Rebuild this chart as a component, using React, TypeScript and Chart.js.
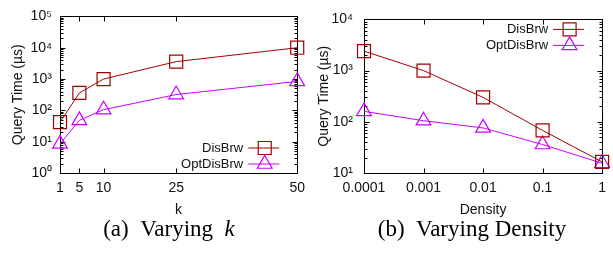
import React, { useEffect, useRef } from 'react';
import { Chart, registerables } from 'chart.js';
import { drawPoint } from 'chart.js/helpers';

Chart.register(...registerables);

// ---- data ----
const K_VALUES = [1, 5, 10, 25, 50];
const K_DISBRW = [42, 360, 1000, 3600, 10000];
const K_OPTDISBRW = [8.5, 48, 105, 320, 840];

const DENSITY_LABELS = ['0.0001', '0.001', '0.01', '0.1', '1'];
const D_DISBRW = [2400, 1000, 300, 68, 16.5];
const D_OPTDISBRW = [160, 105, 76, 36, 15.5];

const K_Y_TICKS = [1, 10, 100, 1000, 10000, 100000];
const D_Y_TICKS = [10, 100, 1000, 10000];

const SERIES_NAMES = ['DisBrw', 'OptDisBrw'];
const COLORS = ['#a00000', '#cc00ff'];
const POINT_STYLES = ['rect', 'triangle'];
const POINT_RADII = [9.2, 8.5];

const FONT_FAMILY = '"Liberation Sans", Arial, Helvetica, sans-serif';
const TEXT_COLOR = '#111';

const SUP = '⁰¹²³⁴⁵⁶⁷⁸⁹';
const pow10Label = (v: number) => {
  const e = Math.round(Math.log10(v));
  return '10' + String(e).split('').map((c) => SUP[+c]).join('');
};

// frame with inward ticks (gnuplot style)
const framePlugin = {
  id: 'gpFrame',
  beforeDatasetsDraw(chart: any) {
    const { ctx, chartArea: a, scales } = chart;
    const xs = scales.x;
    const ys = scales.y;
    const L = Math.round(a.left) + 0.5;
    const R = Math.round(a.right) + 0.5;
    const T = Math.round(a.top) + 0.5;
    const B = Math.round(a.bottom) + 0.5;
    ctx.save();
    ctx.strokeStyle = '#000';
    ctx.lineWidth = 1;
    ctx.beginPath();
    xs.ticks.forEach((_t: any, i: number) => {
      const px = Math.round(xs.getPixelForTick(i)) + 0.5;
      ctx.moveTo(px, B);
      ctx.lineTo(px, B - 5);
      ctx.moveTo(px, T);
      ctx.lineTo(px, T + 5);
    });
    const lo = Math.round(Math.log10(ys.min));
    const hi = Math.round(Math.log10(ys.max));
    for (let e = lo; e <= hi; e++) {
      for (let m = 1; m <= 9; m++) {
        const v = m * Math.pow(10, e);
        if (v > ys.max * 1.0001) break;
        const py = Math.round(ys.getPixelForValue(v)) + 0.5;
        const len = m === 1 ? 5 : 3;
        ctx.moveTo(L, py);
        ctx.lineTo(L + len, py);
        ctx.moveTo(R, py);
        ctx.lineTo(R - len, py);
      }
    }
    ctx.stroke();
    ctx.strokeRect(L, T, R - L, B - T);
    ctx.restore();
  },
};

// legend drawn inside the plot area
const insideLegendPlugin = {
  id: 'insideLegend',
  afterDraw(chart: any, _args: any, opts: any) {
    const { ctx, chartArea: a } = chart;
    chart.data.datasets.forEach((ds: any, i: number) => {
      const y = opts.anchor === 'bottom' ? a.bottom - opts.offsets[i] : a.top + opts.offsets[i];
      ctx.save();
      ctx.font = '13px ' + FONT_FAMILY;
      ctx.fillStyle = TEXT_COLOR;
      ctx.textAlign = 'right';
      ctx.textBaseline = 'middle';
      ctx.fillText(ds.label, a.right - 54, y);
      ctx.strokeStyle = ds.borderColor;
      ctx.lineWidth = 1;
      ctx.beginPath();
      ctx.moveTo(a.right - 49, y);
      ctx.lineTo(a.right - 18, y);
      ctx.stroke();
      ctx.fillStyle = 'rgba(0,0,0,0)';
      ctx.lineWidth = ds.pointBorderWidth;
      drawPoint(
        ctx,
        { pointStyle: ds.pointStyle, rotation: 0, radius: ds.pointRadius, borderWidth: ds.pointBorderWidth } as any,
        a.right - 32.5,
        y
      );
      ctx.restore();
    });
  },
};

const tickFont = { family: FONT_FAMILY, size: 14 };

function makeDatasets(series: any[][]) {
  return series.map((data, i) => ({
    label: SERIES_NAMES[i],
    data,
    borderColor: COLORS[i],
    backgroundColor: 'rgba(0,0,0,0)',
    borderWidth: 1,
    pointStyle: POINT_STYLES[i],
    pointRadius: POINT_RADII[i],
    pointBorderWidth: 1.2,
    pointBorderColor: COLORS[i],
    pointBackgroundColor: 'rgba(0,0,0,0)',
    tension: 0,
    clip: false as any,
  }));
}

function yAxis(min: number, max: number, ticks: number[], width: number, pad: number) {
  return {
    type: 'logarithmic',
    min,
    max,
    afterBuildTicks: (s: any) => {
      s.ticks = ticks.map((v) => ({ value: v }));
    },
    afterFit: (s: any) => {
      s.width = width;
    },
    ticks: {
      font: tickFont,
      color: TEXT_COLOR,
      padding: pad,
      autoSkip: false,
      callback: (v: any) => pow10Label(Number(v)),
    },
    grid: { display: false, drawTicks: false },
    border: { display: false },
    title: {
      display: true,
      text: 'Query Time (µs)',
      font: { family: FONT_FAMILY, size: 14 },
      color: TEXT_COLOR,
      padding: { top: 10, bottom: 0 },
    },
  };
}

function xCommon(title: string) {
  return {
    afterFit: (s: any) => {
      s.height = 49;
    },
    ticks: { font: tickFont, color: TEXT_COLOR, padding: 7, autoSkip: false, maxRotation: 0 },
    grid: { display: false, drawTicks: false },
    border: { display: false },
    title: {
      display: true,
      text: title,
      font: { family: FONT_FAMILY, size: 14 },
      color: TEXT_COLOR,
      padding: { top: 0, bottom: 3 },
    },
  };
}

function leftConfig(): any {
  const xc = xCommon('k');
  return {
    type: 'line',
    data: {
      datasets: makeDatasets([
        K_VALUES.map((k, i) => ({ x: k, y: K_DISBRW[i] })),
        K_VALUES.map((k, i) => ({ x: k, y: K_OPTDISBRW[i] })),
      ]),
    },
    options: {
      responsive: false,
      animation: false,
      devicePixelRatio: 1,
      layout: { padding: { left: 0, right: 11, top: 14, bottom: 0 } },
      plugins: {
        legend: { display: false },
        tooltip: { enabled: false },
        insideLegend: { anchor: 'bottom', offsets: [25, 9] },
      },
      scales: {
        x: {
          ...xc,
          type: 'linear',
          min: 1,
          max: 50,
          afterBuildTicks: (s: any) => {
            s.ticks = K_VALUES.map((v) => ({ value: v }));
          },
          ticks: { ...xc.ticks, callback: (v: any) => String(v) },
        },
        y: yAxis(1, 100000, K_Y_TICKS, 60, 8),
      },
    },
    plugins: [framePlugin, insideLegendPlugin],
  };
}

function rightConfig(): any {
  const xc = xCommon('Density');
  return {
    type: 'line',
    data: {
      labels: DENSITY_LABELS,
      datasets: makeDatasets([D_DISBRW, D_OPTDISBRW]),
    },
    options: {
      responsive: false,
      animation: false,
      devicePixelRatio: 1,
      layout: { padding: { left: 0, right: 7, top: 14, bottom: 0 } },
      plugins: {
        legend: { display: false },
        tooltip: { enabled: false },
        insideLegend: { anchor: 'top', offsets: [10, 26] },
      },
      scales: {
        x: { ...xc, type: 'category', offset: false },
        y: yAxis(10, 10000, D_Y_TICKS, 58, 11),
      },
    },
    plugins: [framePlugin, insideLegendPlugin],
  };
}

function ChartCanvas({ build, left, width }: { build: () => any; left: number; width: number }) {
  const ref = useRef<HTMLCanvasElement | null>(null);
  useEffect(() => {
    if (!ref.current) return;
    const chart = new Chart(ref.current, build());
    return () => chart.destroy();
  }, []);
  return (
    <canvas
      ref={ref}
      width={width}
      height={222}
      style={{ position: 'absolute', left, top: 0, width, height: 222 }}
    />
  );
}

const captionStyle: React.CSSProperties = {
  position: 'absolute',
  top: 217,
  transform: 'translateX(-50%)',
  fontFamily: '"Liberation Serif", "Times New Roman", serif',
  fontSize: 23,
  lineHeight: '23px',
  whiteSpace: 'pre',
  color: '#000',
};

export default function App() {
  return (
    <div style={{ position: 'absolute', left: 0, top: 0, width: 613, height: 254, background: '#fff', overflow: 'hidden' }}>
      <ChartCanvas build={leftConfig} left={0} width={312} />
      <ChartCanvas build={rightConfig} left={306} width={307} />
      <div style={{ ...captionStyle, left: 169 }}>
        {'(a)\u2002Varying\u2002'}
        <i>k</i>
      </div>
      <div style={{ ...captionStyle, left: 472 }}>{'(b)\u2002Varying Density'}</div>
    </div>
  );
}
